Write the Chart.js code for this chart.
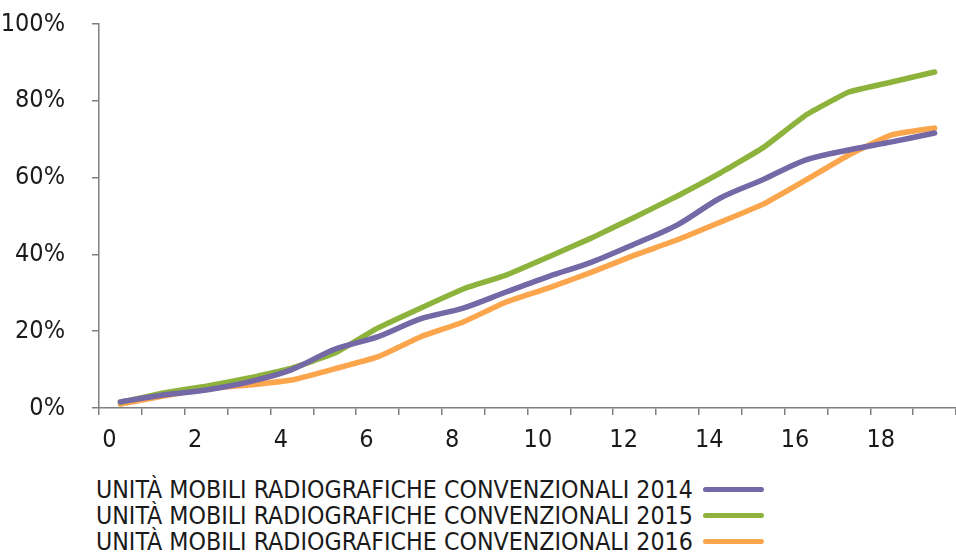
<!DOCTYPE html>
<html lang="it">
<head>
<meta charset="utf-8">
<title>Unità mobili radiografiche convenzionali</title>
<script src="https://cdn.jsdelivr.net/npm/chart.js@4.4.1/dist/chart.umd.min.js"></script>
<style>
  html, body {
    margin: 0;
    padding: 0;
    background: #ffffff;
    overflow: hidden;
  }
  .wrap {
    position: relative;
    width: 956px;
    height: 557px;
  }
  #chart {
    position: absolute;
    left: 0;
    top: 0;
  }
  .legend {
    position: absolute;
    left: 96px;
    top: 476px;
    font-family: "Liberation Sans Narrow", "DejaVu Sans Condensed", sans-serif;
    font-size: 24.7px;
    color: #1a1a1a;
  }
  .legend-row {
    display: flex;
    align-items: center;
    height: 26px;
    white-space: nowrap;
  }
  .legend-line {
    display: inline-block;
    width: 61px;
    height: 5px;
    border-radius: 3px;
    margin-left: 10px;
  }
</style>
</head>
<body>
<div class="wrap">
  <canvas id="chart" width="956" height="460"></canvas>
  <div class="legend" id="legend"></div>
</div>
<script>
// Chart data
const categories = ['0', '1', '2', '3', '4', '5', '6', '7', '8', '9',
  '10', '11', '12', '13', '14', '15', '16', '17', '18', '19'];
const values2014 = [1.6, 3.4, 4.7, 6.8, 10.0, 15.3, 18.5, 23.2, 26.0, 30.2,
  34.3, 38.0, 42.7, 47.7, 54.7, 59.5, 64.6, 67.2, 69.3, 71.6];
const values2015 = [1.5, 3.9, 5.7, 7.8, 10.4, 14.3, 20.8, 26.0, 31.0, 34.6,
  39.4, 44.3, 49.7, 55.2, 61.2, 67.8, 76.3, 82.3, 84.9, 87.5];
const values2016 = [1.0, 3.1, 5.0, 6.0, 7.3, 10.2, 13.3, 18.5, 22.4, 27.6,
  31.3, 35.4, 39.8, 43.8, 48.4, 53.1, 59.4, 65.9, 71.1, 72.9];
const yTicks = [0, 20, 40, 60, 80, 100];

const seriesLabels = [
  'UNITÀ MOBILI RADIOGRAFICHE CONVENZIONALI 2014',
  'UNITÀ MOBILI RADIOGRAFICHE CONVENZIONALI 2015',
  'UNITÀ MOBILI RADIOGRAFICHE CONVENZIONALI 2016'
];
const seriesColors = ['#7468a6', '#8db33d', '#fba54c'];

const FONT_FAMILY = '"Liberation Sans Narrow", "DejaVu Sans Condensed", sans-serif';
const AXIS_COLOR = '#7f7f7f';

// Build a line dataset
function makeDataset(label, data, color, tension) {
  return {
    label: label,
    data: data,
    borderColor: color,
    backgroundColor: color,
    borderWidth: 5.5,
    borderCapStyle: 'round',
    borderJoinStyle: 'round',
    pointRadius: 0,
    pointHoverRadius: 0,
    tension: tension,
    fill: false
  };
}

// Legend as plain html text, line sample on the right
function buildLegend(chart) {
  const legend = document.getElementById('legend');
  legend.innerHTML = '';
  chart.data.datasets.forEach(ds => {
    const row = document.createElement('div');
    row.className = 'legend-row';
    const text = document.createElement('span');
    text.textContent = ds.label;
    const line = document.createElement('span');
    line.className = 'legend-line';
    line.style.background = ds.borderColor;
    row.appendChild(text);
    row.appendChild(line);
    legend.appendChild(row);
  });
}

function initChart() {
  const ctx = document.getElementById('chart').getContext('2d');

  const chart = new Chart(ctx, {
    type: 'line',
    data: {
      labels: categories,
      datasets: [
        makeDataset(seriesLabels[0], values2014, seriesColors[0], 0.3),
        makeDataset(seriesLabels[1], values2015, seriesColors[1], 0.1),
        makeDataset(seriesLabels[2], values2016, seriesColors[2], 0.15)
      ]
    },
    options: {
      responsive: false,
      animation: false,
      layout: {
        padding: { top: 24, right: 0, bottom: 0, left: 0 }
      },
      plugins: {
        legend: { display: false },
        tooltip: { enabled: false }
      },
      scales: {
        x: {
          type: 'category',
          offset: true,
          border: { display: true, color: AXIS_COLOR, width: 1.5 },
          grid: {
            offset: true,
            drawOnChartArea: false,
            drawTicks: true,
            tickLength: 7,
            color: AXIS_COLOR,
            lineWidth: 1.5
          },
          ticks: {
            autoSkip: false,
            maxRotation: 0,
            padding: 10,
            labelOffset: -11,
            color: '#1a1a1a',
            font: { family: FONT_FAMILY, size: 25 },
            callback: function(value, index) {
              return index % 2 === 0 ? this.getLabelForValue(value) : '';
            }
          },
          afterFit: scale => {
            scale.height = 52;
            scale.paddingLeft = 0;
            scale.paddingRight = 0;
          }
        },
        y: {
          min: 0,
          max: 100,
          border: { display: true, color: AXIS_COLOR, width: 1.5 },
          grid: {
            drawOnChartArea: false,
            drawTicks: true,
            tickLength: 7,
            color: AXIS_COLOR,
            lineWidth: 1.5
          },
          afterBuildTicks: scale => {
            scale.ticks = yTicks.map(v => ({ value: v }));
          },
          ticks: {
            padding: 27,
            color: '#1a1a1a',
            font: { family: FONT_FAMILY, size: 25 },
            callback: value => value + '%'
          },
          afterFit: scale => {
            scale.width = 99;
            scale.paddingTop = 0;
            scale.paddingBottom = 0;
          }
        }
      }
    }
  });

  buildLegend(chart);
}

document.addEventListener('DOMContentLoaded', () => {
  initChart();
});
</script>
</body>
</html>
